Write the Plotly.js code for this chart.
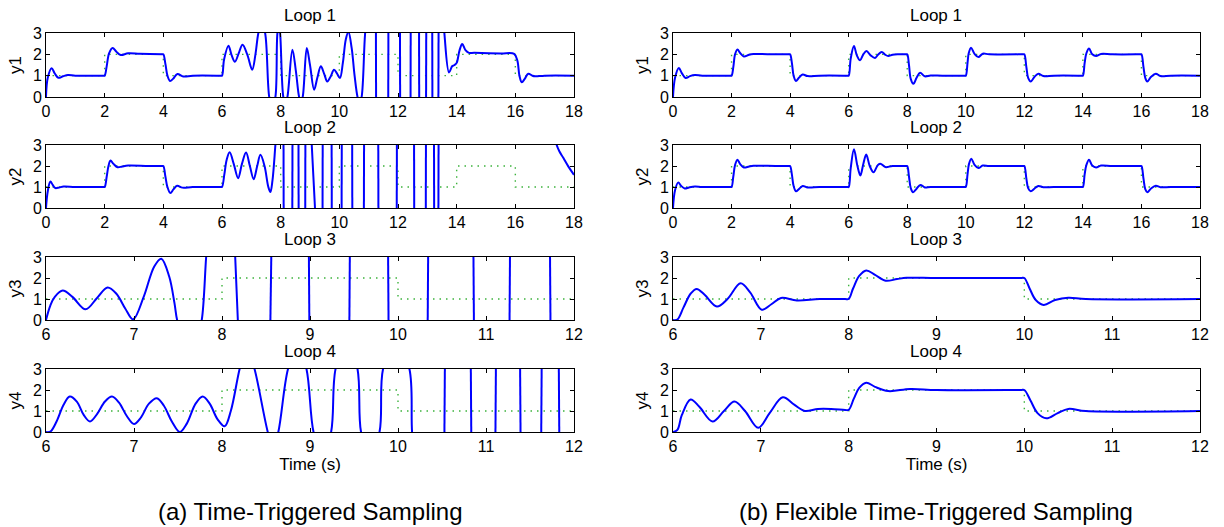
<!DOCTYPE html>
<html>
<head>
<meta charset="utf-8">
<script src="https://cdn.plot.ly/plotly-3.0.1.min.js"></script>
<style>html,body{margin:0;padding:0;background:#fff;}#chart{width:1224px;height:527px;}</style>
</head>
<body>
<div id="chart"></div>
<script>
// ---------- reference signals (square wave) ----------
const refT18 = [0, 2, 4, 6, 8, 10, 12, 14, 16, 18];
const refV18 = [1, 2, 1, 2, 1, 2, 1, 2, 1, 1];
const refT6 = [6, 8, 10, 12];
const refV6 = [1, 2, 1, 1];

// ---------- (a) Time-Triggered Sampling ----------
const tt1T = [0, 0.06, 0.19, 0.3, 0.42, 0.58, 0.75, 1.0, 1.96, 2.0, 2.07, 2.15, 2.27, 2.4, 2.55, 2.8, 3.2, 3.96, 4.0, 4.07, 4.14, 4.23, 4.33, 4.48, 4.68, 5.0, 5.96, 6.0, 6.07, 6.22, 6.33, 6.44, 6.57, 6.7, 6.86, 7.03, 7.14, 7.24, 7.35, 7.47, 7.61, 7.71, 7.82, 7.89, 7.94, 7.98, 8.09, 8.16, 8.23, 8.4, 8.52, 8.63, 8.69, 8.75, 8.89, 9.0, 9.14, 9.25, 9.37, 9.48, 9.59, 9.7, 9.82, 9.92, 10.02, 10.12, 10.22, 10.31, 10.42, 10.52, 10.62, 10.69, 10.76, 10.88, 11.0, 11.245, 11.255, 11.665, 11.675, 12.065, 12.075, 12.425, 12.435, 12.715, 12.725, 12.955, 12.965, 13.165, 13.175, 13.375, 13.385, 13.5, 13.58, 13.74, 13.85, 13.93, 14.0, 14.1, 14.19, 14.3, 14.42, 14.6, 15.5, 15.96, 16.07, 16.14, 16.22, 16.32, 16.44, 16.58, 16.67, 17.0, 18.0];
const tt1Y = [0, 0.9, 1.35, 1.1, 0.9, 0.97, 1.03, 1.0, 1.0, 1.0, 1.45, 2.05, 2.3, 2.12, 1.97, 2.05, 2.03, 2.0, 2.0, 1.55, 1.0, 0.75, 0.85, 1.08, 0.96, 1.0, 1.0, 1.0, 1.75, 2.4, 1.95, 1.65, 2.05, 2.45, 2.0, 1.28, 2.0, 3.0, 3.5, 3.0, 0, -0.5, 0, 3.0, 3.3, 3.0, 0, -0.3, 0, 2.22, 1.2, 0, -0.2, 0, 2.3, 1.5, 0.34, 0.9, 1.44, 1.1, 0.73, 0.95, 1.28, 1.1, 0.89, 1.6, 2.7, 3.05, 2.3, 1.0, 0, -0.3, 0, 3.0, 4.5, 4.5, -1.5, -1.5, 4.5, 4.5, -1.5, -1.5, 4.5, 4.5, -1.5, -1.5, 4.5, 4.5, -1.5, -1.5, 4.5, 4.5, 3.0, 1.15, 1.45, 1.5, 1.6, 2.2, 2.48, 2.2, 2.07, 2.07, 2.04, 2.02, 1.7, 1.0, 0.69, 0.85, 1.09, 1.0, 0.97, 1.0, 1.0];

const tt2T = [0, 0.06, 0.15, 0.23, 0.32, 0.45, 0.6, 1.0, 1.96, 2.0, 2.07, 2.13, 2.2, 2.3, 2.44, 2.6, 2.8, 3.5, 3.96, 4.0, 4.07, 4.14, 4.24, 4.35, 4.47, 4.65, 5.0, 5.96, 6.0, 6.08, 6.16, 6.26, 6.4, 6.55, 6.68, 6.82, 6.95, 7.08, 7.2, 7.31, 7.45, 7.58, 7.65, 7.72, 7.82, 7.9, 8.095, 8.105, 8.395, 8.405, 8.605, 8.615, 8.835, 8.845, 9.0, 9.06, 9.17, 9.23, 9.425, 9.435, 9.735, 9.745, 10.075, 10.085, 10.435, 10.445, 10.835, 10.845, 11.325, 11.335, 11.955, 11.965, 12.545, 12.555, 12.945, 12.955, 13.225, 13.235, 13.375, 13.385, 15.5, 17.2, 17.41, 17.5, 17.63, 17.81, 18.0];
const tt2Y = [0, 0.8, 1.26, 1.1, 0.95, 0.98, 1.02, 1.0, 1.0, 1.0, 1.5, 2.0, 2.26, 2.1, 1.94, 1.98, 2.02, 2.0, 2.0, 2.0, 1.5, 1.0, 0.71, 0.9, 1.06, 0.97, 1.0, 1.0, 1.0, 1.6, 2.3, 2.65, 2.1, 1.42, 2.1, 2.64, 2.0, 1.37, 2.0, 2.53, 2.0, 1.0, 0.76, 1.3, 3.0, 4.5, 4.5, -1.5, -1.5, 4.5, 4.5, -1.5, -1.5, 4.5, 4.5, 3.0, 0, -1.5, -1.5, 4.5, 4.5, -1.5, -1.5, 4.5, 4.5, -1.5, -1.5, 4.5, 4.5, -1.5, -1.5, 4.5, 4.5, -1.5, -1.5, 4.5, 4.5, -1.5, -1.5, 4.5, 5.0, 4.2, 3.0, 2.7, 2.4, 1.97, 1.58];

const tt3T = [6.0, 6.05, 6.1, 6.19, 6.3, 6.45, 6.58, 6.7, 6.8, 6.9, 6.99, 7.11, 7.23, 7.31, 7.4, 7.46, 7.49, 7.55, 7.63, 7.72, 7.77, 7.82, 7.85, 8.13, 8.15, 8.18, 8.2, 8.53, 8.55, 8.56, 8.57, 8.985, 8.995, 9.445, 9.455, 9.885, 9.895, 10.335, 10.345, 10.855, 10.865, 11.265, 11.275, 11.725, 11.735, 12.0];
const tt3Y = [0, 0.7, 1.1, 1.4, 1.1, 0.51, 1.05, 1.55, 1.25, 0.55, 0.03, 1.1, 2.55, 2.92, 2.07, 0.8, 0, -0.8, -1.5, -0.8, 0, 3.0, 4.5, 4.5, 3.0, 0, -1.5, -1.5, 0, 3.0, 4.5, 4.5, -1.5, -1.5, 4.5, 4.5, -1.5, -1.5, 4.5, 4.5, -1.5, -1.5, 4.5, 4.5, -1.5, -1.5];

const tt4T = [6.0, 6.05, 6.12, 6.2, 6.27, 6.35, 6.43, 6.5, 6.58, 6.67, 6.75, 6.83, 6.92, 7.0, 7.08, 7.17, 7.26, 7.34, 7.43, 7.52, 7.6, 7.7, 7.78, 7.86, 7.95, 8.03, 8.1, 8.2, 8.28, 8.37, 8.52, 8.58, 8.64, 8.75, 8.86, 8.96, 9.04, 9.14, 9.24, 9.29, 9.42, 9.54, 9.58, 9.68, 9.79, 9.83, 9.98, 10.13, 10.16, 10.2, 10.525, 10.535, 10.825, 10.835, 11.105, 11.115, 11.385, 11.395, 11.625, 11.635, 11.825, 11.835, 12.0];
const tt4Y = [0, 0.02, 0.5, 1.3, 1.69, 1.45, 0.8, 0.5, 0.85, 1.45, 1.69, 1.4, 0.75, 0.38, 0.7, 1.35, 1.61, 1.25, 0.5, 0.0, 0.4, 1.35, 1.69, 1.35, 0.6, 0.27, 1.0, 3.0, 4.2, 3.0, 0, -0.8, 0, 3.0, 4.2, 3.0, 0, -1.2, 0, 3.0, 4.5, 3.0, 0, -1.2, 0, 3.0, 4.5, 3.0, 0, -1.5, -1.5, 4.5, 4.5, -1.5, -1.5, 4.5, 4.5, -1.5, -1.5, 4.5, 4.5, -1.5, -1.5];

// ---------- (b) Flexible Time-Triggered Sampling ----------
const ftt1T = [0, 0.07, 0.2, 0.3, 0.43, 0.58, 0.75, 1.0, 1.96, 2.0, 2.06, 2.12, 2.2, 2.3, 2.42, 2.6, 2.75, 3.5, 3.96, 4.0, 4.06, 4.12, 4.2, 4.3, 4.43, 4.6, 5.0, 5.96, 6.0, 6.07, 6.18, 6.28, 6.39, 6.5, 6.61, 6.75, 6.9, 7.0, 7.13, 7.25, 7.35, 7.5, 7.7, 7.96, 8.0, 8.06, 8.12, 8.21, 8.32, 8.44, 8.6, 8.8, 9.2, 9.96, 10.0, 10.06, 10.1, 10.18, 10.3, 10.43, 10.58, 10.8, 11.96, 12.0, 12.07, 12.13, 12.22, 12.35, 12.48, 12.65, 13.0, 13.96, 14.0, 14.06, 14.12, 14.21, 14.32, 14.45, 14.62, 15.0, 15.96, 16.0, 16.07, 16.13, 16.2, 16.33, 16.49, 16.65, 17.0, 18.0];
const ftt1Y = [0, 0.9, 1.36, 1.12, 0.89, 0.98, 1.03, 1.0, 1.0, 1.0, 1.4, 2.0, 2.23, 2.05, 1.9, 1.98, 2.01, 2.0, 2.0, 2.0, 1.6, 1.0, 0.75, 0.9, 1.05, 0.98, 1.0, 1.0, 1.0, 1.8, 2.39, 1.95, 1.72, 2.0, 2.16, 1.95, 1.83, 1.98, 2.11, 1.98, 1.92, 1.98, 2.0, 2.0, 2.0, 1.5, 0.85, 0.62, 0.9, 1.14, 0.97, 1.01, 1.0, 1.0, 1.0, 1.6, 2.05, 2.31, 2.02, 1.87, 2.03, 2.0, 2.0, 2.0, 1.4, 0.9, 0.73, 0.95, 1.09, 0.98, 1.0, 1.0, 1.0, 1.6, 2.05, 2.27, 2.0, 1.92, 2.02, 2.0, 2.0, 2.0, 1.4, 0.9, 0.73, 0.95, 1.09, 0.98, 1.0, 1.0];

const ftt2T = [0, 0.07, 0.18, 0.28, 0.4, 0.55, 0.75, 1.0, 1.96, 2.0, 2.06, 2.12, 2.2, 2.3, 2.42, 2.6, 2.75, 3.5, 3.96, 4.0, 4.06, 4.12, 4.2, 4.3, 4.43, 4.6, 5.0, 5.96, 6.0, 6.07, 6.18, 6.3, 6.4, 6.5, 6.6, 6.72, 6.85, 7.0, 7.1, 7.25, 7.5, 7.96, 8.0, 8.06, 8.12, 8.2, 8.32, 8.45, 8.6, 8.8, 9.96, 10.0, 10.06, 10.11, 10.19, 10.3, 10.43, 10.58, 10.8, 11.96, 12.0, 12.07, 12.13, 12.22, 12.35, 12.48, 12.65, 13.0, 13.96, 14.0, 14.06, 14.12, 14.21, 14.32, 14.45, 14.62, 15.0, 15.96, 16.0, 16.07, 16.13, 16.2, 16.33, 16.49, 16.65, 17.0, 18.0];
const ftt2Y = [0, 0.85, 1.22, 1.05, 0.93, 0.98, 1.02, 1.0, 1.0, 1.0, 1.5, 2.05, 2.3, 2.08, 1.93, 1.98, 2.01, 2.0, 2.0, 2.0, 1.6, 1.05, 0.8, 0.9, 1.05, 0.98, 1.0, 1.0, 1.0, 1.9, 2.8, 2.0, 1.55, 2.1, 2.55, 2.0, 1.7, 2.05, 2.1, 1.95, 2.0, 2.0, 2.0, 1.5, 0.95, 0.75, 0.92, 1.1, 0.98, 1.0, 1.0, 1.0, 1.6, 2.1, 2.35, 2.05, 1.9, 2.02, 2.0, 2.0, 2.0, 1.4, 0.95, 0.8, 0.93, 1.05, 0.99, 1.0, 1.0, 1.0, 1.6, 2.05, 2.3, 2.02, 1.93, 2.02, 2.0, 2.0, 2.0, 1.4, 0.9, 0.75, 0.93, 1.06, 0.99, 1.0, 1.0];

const ftt3T = [6.0, 6.05, 6.12, 6.2, 6.27, 6.36, 6.5, 6.62, 6.77, 6.88, 7.01, 7.12, 7.23, 7.41, 7.67, 7.96, 8.0, 8.05, 8.12, 8.2, 8.3, 8.42, 8.55, 8.66, 9.0, 9.96, 10.0, 10.06, 10.13, 10.22, 10.35, 10.5, 10.7, 12.0];
const ftt3Y = [0, 0.02, 0.6, 1.25, 1.48, 1.2, 0.64, 1.0, 1.75, 1.3, 0.49, 0.75, 1.05, 0.93, 1.0, 1.0, 1.0, 1.5, 2.1, 2.36, 2.15, 1.87, 1.95, 2.01, 2.0, 2.0, 2.0, 1.5, 0.95, 0.72, 0.95, 1.06, 1.0, 1.0];

const ftt4T = [6.0, 6.05, 6.1, 6.2, 6.3, 6.45, 6.58, 6.7, 6.82, 6.97, 7.1, 7.25, 7.38, 7.5, 7.65, 7.8, 7.96, 8.0, 8.06, 8.12, 8.2, 8.3, 8.45, 8.7, 9.0, 9.96, 10.0, 10.07, 10.15, 10.25, 10.38, 10.5, 10.7, 12.0];
const ftt4Y = [0, 0.1, 0.8, 1.55, 1.2, 0.5, 1.0, 1.45, 1.0, 0.2, 0.9, 1.65, 1.3, 1.0, 1.1, 1.1, 1.05, 1.05, 1.6, 2.1, 2.35, 2.15, 1.95, 2.05, 2.0, 2.0, 2.0, 1.5, 0.9, 0.65, 0.9, 1.1, 1.0, 1.0];

const yTickVals = [0, 1, 2, 3];
const xTicks18 = [0, 2, 4, 6, 8, 10, 12, 14, 16, 18];
const xTicks6 = [6, 7, 8, 9, 10, 11, 12];
const loopTitles = ['Loop 1', 'Loop 2', 'Loop 3', 'Loop 4'];
const yLabels = ['y1', 'y2', 'y3', 'y4'];
const timeLabel = 'Time (s)';
const captions = ['(a) Time-Triggered Sampling', '(b) Flexible Time-Triggered Sampling'];

// ---------- build ----------
const W = 1224, H = 527;
const FONT = 'Liberation Sans, Arial, Helvetica, sans-serif';
const TICK_SIZE = 16, LABEL_SIZE = 17, CAPTION_SIZE = 24;
const colDom = [[46 / W, 574 / W], [673 / W, 1200 / W]];
const rowPx = [[33, 97], [145, 208], [257, 320], [369, 432]];
const rowDom = rowPx.map(r => [1 - r[1] / H, 1 - r[0] / H]);

const series = [
  [tt1T, tt1Y], [tt2T, tt2Y], [tt3T, tt3Y], [tt4T, tt4Y],
  [ftt1T, ftt1Y], [ftt2T, ftt2Y], [ftt3T, ftt3Y], [ftt4T, ftt4Y]
];

// split a series: near-vertical jumps are drawn straight, the rest smoothed
function splitSeries(t, y) {
  const sx = [], sy = [], lx = [], ly = [];
  for (let k = 0; k < t.length; k++) {
    sx.push(t[k]); sy.push(y[k]);
    if (k < t.length - 1 && t[k + 1] - t[k] <= 0.012) {
      lx.push(t[k], t[k + 1], null); ly.push(y[k], y[k + 1], null);
      sx.push(null); sy.push(null);
    }
  }
  return {sx, sy, lx, ly};
}

const traces = [];
const layout = {
  width: W, height: H, margin: {l: 0, r: 0, t: 0, b: 0},
  paper_bgcolor: '#fff', plot_bgcolor: '#fff', showlegend: false,
  font: {family: FONT, size: TICK_SIZE, color: '#000'},
  annotations: []
};

function axisBase() {
  return {
    showline: true, linecolor: '#000', linewidth: 1, mirror: 'ticks',
    ticks: 'inside', ticklen: 4, tickwidth: 1, tickcolor: '#000',
    showgrid: false, zeroline: false, fixedrange: true,
    tickfont: {family: FONT, size: TICK_SIZE, color: '#000'}
  };
}

for (let c = 0; c < 2; c++) {
  for (let r = 0; r < 4; r++) {
    const i = c * 4 + r + 1;
    const xa = i === 1 ? 'x' : 'x' + i;
    const ya = i === 1 ? 'y' : 'y' + i;
    const xk = i === 1 ? 'xaxis' : 'xaxis' + i;
    const yk = i === 1 ? 'yaxis' : 'yaxis' + i;
    const long = r < 2;
    traces.push({
      x: long ? refT18 : refT6, y: long ? refV18 : refV6, xaxis: xa, yaxis: ya,
      mode: 'lines', line: {color: '#3cb33c', width: 1.4, dash: '1.5px,5px', shape: 'hv'},
      hoverinfo: 'skip'
    });
    const s = series[i - 1];
    const parts = splitSeries(s[0], s[1]);
    traces.push({
      x: parts.sx, y: parts.sy, xaxis: xa, yaxis: ya, mode: 'lines', connectgaps: false,
      line: {color: '#0000ff', width: 2, shape: 'spline', smoothing: 1},
      hoverinfo: 'skip'
    });
    if (parts.lx.length) {
      traces.push({
        x: parts.lx, y: parts.ly, xaxis: xa, yaxis: ya, mode: 'lines', connectgaps: false,
        line: {color: '#0000ff', width: 2, shape: 'linear'},
        hoverinfo: 'skip'
      });
    }
    const xax = axisBase();
    xax.domain = colDom[c];
    xax.anchor = ya;
    xax.range = long ? [0, 18] : [6, 12];
    xax.tickvals = long ? xTicks18 : xTicks6;
    if (r === 3) xax.title = {text: timeLabel, font: {family: FONT, size: LABEL_SIZE}, standoff: 2};
    layout[xk] = xax;
    const yax = axisBase();
    yax.domain = rowDom[r];
    yax.anchor = xa;
    yax.range = [0, 3];
    yax.tickvals = yTickVals;
    yax.title = {text: yLabels[r], font: {family: FONT, size: LABEL_SIZE}, standoff: 6};
    layout[yk] = yax;
    layout.annotations.push({
      text: loopTitles[r], xref: 'paper', yref: 'paper',
      x: (colDom[c][0] + colDom[c][1]) / 2, y: rowDom[r][1],
      xanchor: 'center', yanchor: 'bottom', yshift: 6, showarrow: false,
      font: {family: FONT, size: LABEL_SIZE, color: '#000'}
    });
  }
}
for (let c = 0; c < 2; c++) {
  layout.annotations.push({
    text: captions[c], xref: 'paper', yref: 'paper',
    x: (colDom[c][0] + colDom[c][1]) / 2, y: 1 - 511 / H,
    xanchor: 'center', yanchor: 'middle', showarrow: false,
    font: {family: FONT, size: CAPTION_SIZE, color: '#000'}
  });
}

Plotly.newPlot('chart', traces, layout, {staticPlot: true, displayModeBar: false});
</script>
</body>
</html>
